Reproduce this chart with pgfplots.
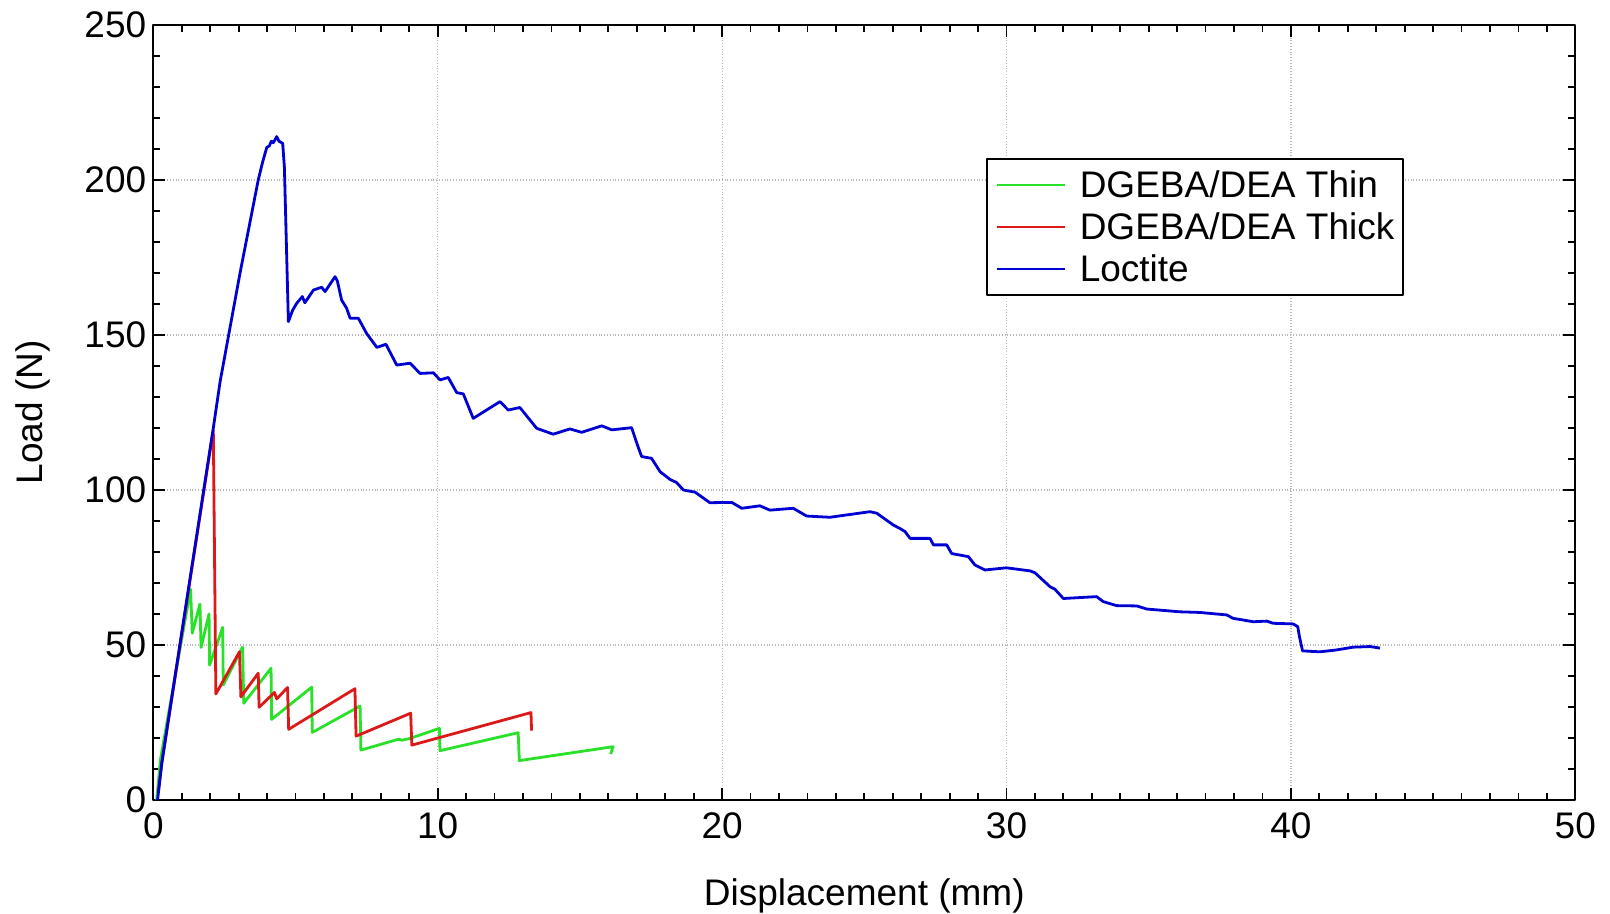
\documentclass[border=0pt]{standalone}
\usepackage{fontspec}
\setmainfont{Liberation Sans}
\usepackage{pgfplots}
\pgfplotsset{compat=1.18}
\definecolor{thincol}{RGB}{40,225,40}
\definecolor{thickcol}{RGB}{220,25,25}
\definecolor{loctcol}{RGB}{0,0,210}
\newcommand\lblfont{\fontsize{18.5}{22}\selectfont}

\begin{document}
\begin{tikzpicture}
\begin{axis}[
  scale only axis, width=711pt, height=387.5pt,
  xmin=0, xmax=50, ymin=0, ymax=250,
  xtick={0,10,...,50}, ytick={0,50,...,250},
  minor x tick num=9, minor y tick num=4,
  tick align=inside, tick pos=both,
  major tick length=6pt, minor tick length=3.5pt,
  every tick/.style={black, line width=0.9pt},
  axis line style={line width=1pt},
  grid=major,
  major grid style={densely dotted, gray!55, line width=0.6pt},
  /pgf/number format/assume math mode=true,
  ticklabel style={font=\lblfont},
  xticklabel style={yshift=-3pt},
  label style={font=\lblfont},
  xlabel={Displacement (mm)}, ylabel={Load (N)},
  xlabel style={at={(axis description cs:0.5,-0.1355)}, anchor=base},
  ylabel style={at={(axis description cs:-0.0776,0.5)}, anchor=base},
  legend style={at={(rel axis cs:0.5854,0.8284)}, anchor=north west,
    draw=black, line width=1pt, font=\lblfont,
    inner xsep=4.5pt, inner ysep=2.5pt, column sep=7pt, row sep=0pt,
    nodes={inner xsep=0pt, inner ysep=0pt, text height=16.9pt, text depth=4.1pt}},
  legend cell align=left,
  legend image code/.code={%
    \draw[#1, line width=1pt] (0pt,0pt) -- (34pt,0pt);},
  line join=round,
]
% DGEBA/DEA, thin bond line
\addplot[thincol, line width=1.4pt] coordinates {
(0.12,0) (0.25,13) (1.31,68) (1.37,53.8) (1.64,63.2) (1.68,49.2)
(1.96,60) (1.98,43.5) (2.44,55.7) (2.46,37.1) (3.14,49.3) (3.18,31.2)
(4.14,42.5) (4.16,26.0) (5.57,36.4) (5.59,21.8) (7.27,30.3) (7.30,16.1)
(8.62,19.6) (8.75,19.3) (9.0,19.8) (10.06,23.1) (10.08,15.9)
(12.83,21.7) (12.87,12.7) (16.17,17.2) (16.08,14.8)
};
\addlegendentry{DGEBA/DEA Thin}
% DGEBA/DEA, thick bond line
\addplot[thickcol, line width=1.4pt] coordinates {
(0.18,3) (0.30,12) (2.11,119.4) (2.20,34.2) (3.03,47.8) (3.08,33.3)
(3.69,40.9) (3.72,29.9) (4.26,34.7) (4.34,32.6) (4.72,36.3) (4.76,22.8)
(7.09,35.9) (7.13,20.6) (9.05,28.0) (9.09,17.7) (13.28,28.2) (13.30,22.4)
};
\addlegendentry{DGEBA/DEA Thick}
% Loctite
\addplot[loctcol, line width=1.4pt] coordinates {
(0.15,0) (0.30,12) (1.20,66) (2.11,120) (2.35,135) (3.05,170) (3.69,200)
(3.85,206) (3.99,210.5) (4.08,211) (4.15,212.5) (4.22,212) (4.34,214)
(4.42,212.5) (4.55,211.8) (4.61,204) (4.75,154.3) (4.90,158) (5.04,160.2)
(5.24,162.4) (5.33,160.4) (5.63,164.5) (5.92,165.4) (6.04,164) (6.39,168.8)
(6.47,167.5) (6.62,161.3) (6.80,158.6) (6.92,155.4) (7.21,155.4) (7.50,150.5)
(7.86,146) (8.18,147) (8.56,140.3) (9.03,140.9) (9.38,137.6) (9.85,137.8)
(10.08,135.5) (10.37,136.3) (10.67,131.4) (10.90,131) (11.25,123.1)
(12.19,128.5) (12.48,125.8) (12.89,126.6) (13.48,119.9) (14.06,118)
(14.65,119.7) (15.06,118.6) (15.77,120.7) (16.12,119.4) (16.82,120.1)
(17.00,115.1) (17.17,110.8) (17.52,110.2) (17.82,105.9) (18.17,103.4)
(18.40,102.4) (18.64,100) (19.05,99.3) (19.57,95.9) (20.34,96) (20.69,94.1)
(21.33,94.9) (21.68,93.5) (22.50,94.1) (22.97,91.6) (23.79,91.2) (25.20,93)
(25.44,92.5) (26.02,88.7) (26.25,87.6) (26.43,86.6) (26.61,84.4) (27.31,84.4)
(27.43,82.3) (27.90,82.3) (28.07,79.5) (28.66,78.5) (28.89,75.8) (29.24,74.2)
(30.00,74.9) (30.83,73.9) (31.00,73.3) (31.53,68.8) (31.70,68) (32.00,65)
(33.17,65.6) (33.40,64) (33.87,62.7) (34.58,62.6) (34.93,61.6) (36.10,60.7)
(36.80,60.5) (37.74,59.7) (37.97,58.6) (38.68,57.5) (39.15,57.7) (39.38,57)
(40.08,56.8) (40.24,55.9) (40.30,52.7) (40.41,48.1) (41.02,47.8) (41.60,48.4)
(42.19,49.3) (42.78,49.5) (43.13,49.0)
};
\addlegendentry{Loctite}
\end{axis}
\pgfresetboundingbox
\path[use as bounding box]
  ([shift={(-76.65pt,-57pt)}]current axis.south west) rectangle
  ([shift={(17.35pt,12.5pt)}]current axis.north east);
\end{tikzpicture}
\end{document}
